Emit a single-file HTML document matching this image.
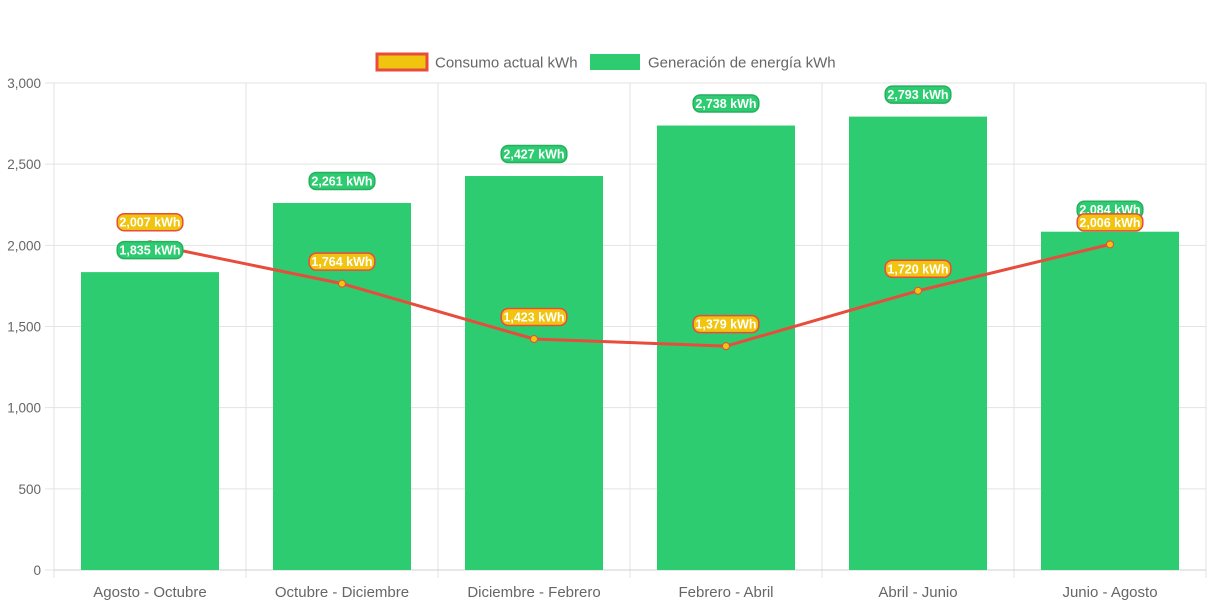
<!DOCTYPE html>
<html><head><meta charset="utf-8"><style>
body{margin:0;background:#fff;font-family:"Liberation Sans",sans-serif}
svg{display:block}
</style></head><body>
<svg id="c" width="1213" height="606"></svg>
<script>
const categories=["Agosto - Octubre","Octubre - Diciembre","Diciembre - Febrero","Febrero - Abril","Abril - Junio","Junio - Agosto"];
const generation=[1835,2261,2427,2738,2793,2084];
const consumption=[2007,1764,1423,1379,1720,2006];
const yTicks=[0,500,1000,1500,2000,2500,3000];
const NS="http://www.w3.org/2000/svg",svg=document.getElementById('c');
const L=54,R=1206,T=83,B=570,yMax=3000;
const y=v=>B-(v/yMax)*(B-T);
const bw=(R-L)/categories.length;
const xc=i=>L+bw*(i+0.5);
function el(t,a,p){const e=document.createElementNS(NS,t);for(const k in a)e.setAttribute(k,a[k]);(p||svg).appendChild(e);return e;}
const fmt=v=>v.toLocaleString('en-US');
yTicks.forEach(v=>{
 const g=el('line',{x1:45,x2:R,y1:y(v),y2:y(v),stroke:'#e3e3e3'});
 
 
 const t=el('text',{x:41,y:y(v)+5,'text-anchor':'end','font-size':13.5,fill:'#666'});t.textContent=fmt(v);
 
 
});
for(let i=0;i<=categories.length;i++){
 const g=el('line',{x1:L+bw*i,x2:L+bw*i,y1:T,y2:B+8,stroke:'#e3e3e3'});
 
 
}
el('line',{x1:L,x2:R,y1:B,y2:B,stroke:'#d0d0d0'});
categories.forEach((c,i)=>{
 const t=el('text',{x:xc(i),y:597,'text-anchor':'middle','font-size':15,fill:'#666'});t.textContent=c;
 
 
});
const barW=138;
generation.forEach((v,i)=>{
 const r=el('rect',{x:xc(i)-barW/2,y:y(v),width:barW,height:B-y(v),fill:'#2ecc71'});
 
 
});
const pts=consumption.map((v,i)=>xc(i)+','+y(v)).join(' ');
const pl=el('polyline',{points:pts,fill:'none',stroke:'#e74c3c','stroke-width':3});


consumption.forEach((v,i)=>{
 const p=el('circle',{cx:xc(i),cy:y(v),r:3.5,fill:'#f1c40f',stroke:'#e74c3c','stroke-width':1});
 
 
});
function label(xm,ym,txt,fill,stroke,name){
 const g=el('g',{});
 
 
 const w=txt.length*6.4+8;
 el('rect',{x:xm-w/2,y:ym-8.5,width:w,height:17,rx:7,fill:fill,stroke:stroke,'stroke-width':1.5},g);
 const t=el('text',{x:xm,y:ym+4.5,'text-anchor':'middle','font-size':12.5,'font-weight':'bold',fill:'#fff'},g);t.textContent=txt;
}
generation.forEach((v,i)=>label(xc(i),y(v)-22,fmt(v)+' kWh','#2ecc71','#27ae60','generation-value-label'));
consumption.forEach((v,i)=>label(xc(i),y(v)-22,fmt(v)+' kWh','#f1c40f','#e74c3c','consumption-value-label'));
const lg=el('g',{});


const l1=el('g',{},lg);


el('rect',{x:377,y:54,width:50,height:16,fill:'#f1c40f',stroke:'#e74c3c','stroke-width':3},l1);
let t=el('text',{x:435,y:67.5,'font-size':15,fill:'#666'},l1);t.textContent='Consumo actual kWh';
const l2=el('g',{},lg);


el('rect',{x:590,y:54,width:50,height:16,fill:'#2ecc71'},l2);
t=el('text',{x:648,y:67.5,'font-size':15,fill:'#666'},l2);t.textContent='Generación de energía kWh';
</script>
</body></html>
